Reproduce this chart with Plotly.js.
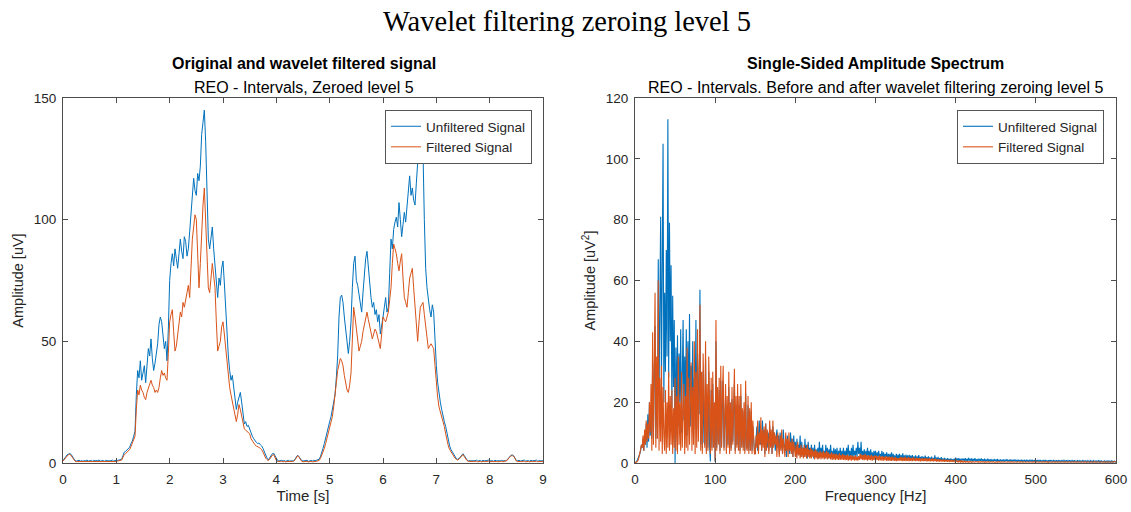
<!DOCTYPE html>
<html>
<head>
<meta charset="utf-8">
<script src="https://cdn.plot.ly/plotly-3.0.1.min.js"></script>
<style>html,body{margin:0;padding:0;background:#fff;}#chart{width:1131px;height:512px;}</style>
</head>
<body>
<div id="chart"></div>
<script>
// ---- Time-domain signal (sampled every 0.025 s, 0 .. 9 s) ----
const timeStep = 0.025;
const unfilteredSignal = [
  // 0.000 - 1.075
  1.0, 1.6, 2.5, 3.3, 3.8, 3.9, 3.6, 2.6, 1.5, 1.0, 0.8,
  0.9,1.1,0.8,1.0,0.7,1.0,0.9,1.2,0.8,0.9,1.0,0.7,1.1,0.9,0.8,1.0,1.2,0.8,0.9,1.0,0.7,1.1,0.9,0.8,1.0,0.9,1.2,0.8,1.0,0.9,1.1,1.2,1.3,
  // 1.100 - 4.000
  1.5, 3, 4.5, 4.8, 5.5, 5.8, 6.5, 8, 9, 11,
  13, 28, 38, 35, 42, 34, 37, 40, 33, 39,
  47, 44, 51, 43, 38, 41, 45, 49, 57, 60,
  58, 52, 47, 50, 42, 55, 75, 82, 86, 81,
  88, 84, 80, 86, 92, 87, 84, 93, 91, 85,
  88, 95, 102, 109, 117, 112, 110, 119, 116, 122,
  135, 140, 145, 132, 110, 92, 88, 94, 97, 88,
  80, 72, 68, 76, 73, 80, 83, 74, 63, 52,
  44, 38, 34, 36, 31, 26, 22, 25, 27, 29,
  25, 19, 16, 17, 15, 15.5, 14, 12, 11, 10,
  9, 8.5, 8, 8.2, 7.5, 7, 6, 4.5, 3, 2,
  1.3, 2, 3, 3.8, 4, 2.8, 1.5,
  // 4.025 - 4.775
  1.0, 0.8, 0.9, 1.1, 0.8, 1.0, 0.7, 0.9, 1.1, 0.8, 1.0, 0.9,
  1.0, 1.5, 2.5, 3.2, 2.6, 1.5, 1.0,
  0.8, 1.0, 0.9, 1.1, 0.7, 0.9, 1.0, 0.8, 1.1, 0.9, 1.0, 1.2,
  // 4.800 - 7.600
  1.5, 2.5, 4, 6, 8, 10.5, 12, 15, 17, 19,
  22, 25, 28, 35, 44, 60, 68, 69, 66, 60,
  54, 48, 45, 50, 58, 72, 82, 85, 75, 73,
  69, 65, 62, 70, 78, 84, 87, 80, 73, 68,
  64, 66, 61, 63, 58, 61, 53, 56, 60, 64,
  68, 62, 64, 78, 92, 88, 96, 99, 101, 97,
  107, 100, 93, 98, 103, 99, 106, 111, 118, 110,
  113, 108, 106, 115, 124, 132, 140, 138, 128, 100,
  80, 72, 66, 63, 60, 65, 62, 50, 40, 33,
  28, 25, 22, 19, 17, 15, 12, 9, 7, 5.5,
  4.5, 3.5, 2.5, 1.8, 1.5, 1.8, 2.5, 3.4, 3.8, 3,
  1.8, 1.2, 0.9,
  // 7.625 - 9.000
  0.9,1.1,0.8,1.0,0.9,1.2,0.8,0.9,1.0,0.7,1.1,0.9,0.8,1.0,1.2,0.8,0.9,1.0,0.7,1.1,0.9,0.8,1.0,0.9,1.1,0.8,1.0,0.9,
  1.2, 2.0, 2.8, 3.2, 3.3, 3.0, 2.0, 1.0,
  0.9,1.1,0.8,1.0,0.9,1.2,0.8,0.9,1.0,0.7,1.1,0.9,0.8,1.0,1.2,0.8,0.9,1.0,0.8,0.9
];
const filteredSignal = [
  // 0.000 - 1.075
  0.8, 1.4, 2.2, 3.0, 3.4, 3.5, 3.2, 2.3, 1.3, 0.8, 0.6,
  0.6,0.7,0.5,0.6,0.45,0.65,0.6,0.75,0.5,0.6,0.65,0.45,0.7,0.6,0.5,0.65,0.75,0.5,0.6,0.65,0.45,0.7,0.6,0.5,0.65,0.6,0.75,0.5,0.65,0.6,0.8,0.9,1.0,
  // 1.100 - 4.000
  1.2, 2.4, 3.5, 3.9, 4.5, 4.8, 5.5, 6.8, 8, 9.5,
  11, 22, 30, 28, 32, 30, 29, 27, 26, 29,
  31, 33, 34, 32, 31, 29, 30, 29, 31, 35,
  38, 36, 37, 35, 34, 45, 58, 61, 63, 54,
  46, 48, 52, 56, 62, 60, 66, 64, 68, 70,
  73, 68, 80, 92, 97, 102, 100, 84, 72, 82,
  96, 106, 113, 98, 80, 72, 70, 78, 82, 77,
  72, 58, 46, 48, 50, 56, 58, 53, 47, 41,
  36, 31, 28, 25, 22, 19, 17, 20, 24, 22,
  19, 16, 14, 13.5, 13, 12.8, 12, 10, 9, 8,
  7.5, 7, 6.5, 6.4, 6, 5.5, 4.5, 3.2, 2, 1.4,
  1, 1.6, 2.5, 3.2, 3.5, 2.4, 1,
  // 4.025 - 4.775
  0.6, 0.5, 0.6, 0.7, 0.5, 0.65, 0.45, 0.6, 0.7, 0.5, 0.65, 0.6,
  0.7, 1.3, 2.3, 3.0, 2.4, 1.3, 0.7,
  0.5, 0.65, 0.6, 0.7, 0.45, 0.6, 0.65, 0.5, 0.7, 0.6, 0.7, 0.8,
  // 4.800 - 7.600
  1.0, 1.8, 3, 4.5, 6, 8, 10, 12.5, 15, 17,
  19, 23, 27, 33, 38, 41, 43, 42, 40, 36,
  33, 30, 29, 32, 37, 52, 64, 60, 56, 50,
  46, 48, 50, 54, 57, 60, 62, 59, 56, 53,
  51, 53, 55, 54, 52, 49, 47, 53, 60, 59,
  58, 60, 62, 67, 72, 82, 90, 88, 86, 82,
  79, 83, 86, 76, 68, 66, 64, 70, 76, 78,
  80, 72, 64, 56, 50, 58, 64, 65, 66, 61,
  56, 51, 47, 48, 49, 48, 47, 40, 32, 27,
  23, 21, 20, 17, 15, 12, 9, 7, 5.5, 4.5,
  3.5, 2.7, 2, 1.5, 1.2, 1.6, 2.2, 3, 3.5, 2.6,
  1.5, 1, 0.7,
  // 7.625 - 9.000
  0.6,0.7,0.5,0.6,0.65,0.75,0.5,0.6,0.65,0.45,0.7,0.6,0.5,0.65,0.75,0.5,0.6,0.65,0.45,0.7,0.6,0.5,0.65,0.6,0.7,0.5,0.65,0.6,
  1.0, 1.8, 2.6, 3.0, 3.0, 2.8, 1.8, 0.8,
  0.6,0.7,0.5,0.6,0.65,0.75,0.5,0.6,0.65,0.45,0.7,0.6,0.5,0.65,0.75,0.5,0.6,0.65,0.5,0.6
];

// ---- Single-sided amplitude spectrum (every 1 Hz, 0 .. 600 Hz) ----
const freqStep = 1;
const unfilteredSpectrum = [
  0, 0.2, 0.5, 1, 1.5, 2.5, 3, 4, 6, 5,
  8, 4, 10, 6, 13, 5, 16, 7, 20, 9,
  14, 8, 33, 10, 25, 45, 8, 30, 12, 67,
  22, 48, 81, 25, 60, 105, 20, 56, 30, 70,
  35, 113, 28, 79, 40, 65, 18, 55, 25, 47,
  0, 38, 16, 42, 12, 36, 20, 44, 10, 30,
  47, 14, 35, 22, 44, 9, 40, 17, 49, 12,
  32, 20, 40, 8, 28, 15, 47, 11, 36, 25,
  16, 57, 6, 24, 5, 30, 7, 6, 34, 4,
  22, 5, 30, 6, 0.5, 24, 5, 26, 6, 16,
  0.5, 40, 5, 21, 7, 24, 4, 27, 6, 18,
  27, 5, 15, 22, 4, 19, 6, 25, 4, 17,
  5, 21, 7, 17, 26, 4, 19, 6, 22, 5,
  19, 4, 22, 6, 15, 5, 17, 4, 23, 6,
  5, 19, 4, 15, 5, 17, 4, 12, 6, 4,
  3, 8, 12, 4, 10, 14, 6, 9, 4, 14,
  6, 11, 3, 13, 8, 5, 10, 4, 12, 6,
  9, 3, 12, 6, 10, 4, 8, 11, 5, 9,
  3, 10, 5, 8, 3, 11, 6, 4, 7, 2,
  9, 4, 7, 3, 10, 5, 8, 2, 9, 4,
  7, 2, 8, 3, 6, 4, 9, 2, 7, 3,
  5, 2, 8, 3, 6, 1.5, 7, 3, 5, 2,
  6, 2.5, 5, 1.5, 6, 2, 4.5, 2, 5, 1.5,
  7, 2, 5, 3, 6, 2, 4, 1.5, 6, 2.5,
  5, 1.5, 4.5, 2, 6, 2, 4, 1.5, 5, 2,
  4.5, 2, 5, 1.5, 4, 2, 5, 1.5, 4, 2,
  5, 1.5, 4, 2, 5, 2, 6, 2, 4, 1.5,
  5, 2, 6, 2, 4, 2.5, 5, 2, 7, 3,
  5, 2, 7, 1.5, 4, 2, 4.5, 1.5, 4, 2,
  5, 2, 4, 1.5, 4.5, 2, 3.5, 1.5, 4, 2,
  4, 1.5, 3.5, 2, 4, 1.5, 3, 2, 4, 1.5,
  3.5, 1.5, 3, 2, 3.5, 1, 3, 1.5, 3, 1.5,
  3.5, 1.2, 3, 1.5, 2.5, 1.2, 3, 1, 2.8, 1.3,
  3, 1.2, 2.6, 1, 3.2, 1.2, 2.5, 1, 2.8, 1.2,
  2.5, 1, 2.7, 1.2, 2.4, 1, 2.6, 1.1, 2.2, 1,
  2.5, 1.2, 2.2, 0.9, 2.6, 1.1, 2, 1, 2.3, 1,
  2, 0.8, 2.4, 1, 1.9, 0.9, 2.2, 1, 1.8, 0.8,
  2.1, 1, 1.7, 0.8, 2.5, 0.9, 1.8, 0.8, 2, 0.9,
  1.6, 0.7, 1.9, 0.8, 1.5, 0.7, 1.7, 0.8, 1.4, 0.6,
  1.6, 0.8, 1.3, 0.6, 1.5, 0.7, 1.2, 0.6, 1.4, 0.7,
  1.8, 0.7, 1.5, 0.6, 1.6, 0.7, 1.3, 0.6, 1.5, 0.8,
  1.4, 0.6, 1.6, 0.7, 1.3, 0.6, 1.7, 0.8, 1.4, 0.6,
  1.5, 0.7, 1.3, 0.6, 1.6, 0.7, 1.2, 0.6, 1.4, 0.7,
  1.3, 0.6, 1.5, 0.7, 1.2, 0.6, 1.4, 0.5, 1.2, 0.6,
  1.4, 0.6, 1.2, 0.5, 1.3, 0.6, 1.1, 0.5, 1.3, 0.6,
  1.2, 0.5, 1.3, 0.6, 1.1, 0.5, 1.2, 0.6, 1.0, 0.5,
  1.2, 0.5, 1.1, 0.6, 1.3, 0.5, 1.0, 0.5, 1.2, 0.6,
  1.1, 0.5, 1.0, 0.6, 1.2, 0.5, 1.0, 0.4, 1.1, 0.5,
  1.0, 0.5, 1.1, 0.4, 1.0, 0.5, 0.9, 0.4, 1.1, 0.5,
  1.0, 0.4, 0.9, 0.5, 1.1, 0.4, 0.9, 0.5, 1.0, 0.4,
  0.9, 0.4, 1.0, 0.5, 0.9, 0.4, 1.0, 0.4, 0.8, 0.5,
  0.9, 0.4, 1.0, 0.5, 0.8, 0.4, 0.9, 0.4, 1.0, 0.5,
  0.8, 0.4, 0.9, 0.5, 0.8, 0.4, 0.9, 0.4, 0.8, 0.4,
  0.9, 0.4, 0.8, 0.5, 0.9, 0.4, 0.8, 0.4, 0.9, 0.4,
  0.8, 0.4, 0.9, 0.4, 0.8, 0.3, 0.8, 0.4, 0.9, 0.4,
  0.7, 0.4, 0.8, 0.3, 0.8, 0.4, 0.7, 0.4, 0.8, 0.3,
  0.8, 0.4, 0.7, 0.3, 0.8, 0.4, 0.7, 0.3, 0.8, 0.4,
  0.7, 0.3, 0.8, 0.4, 0.7, 0.3, 0.7, 0.4, 0.8, 0.3,
  0.7, 0.3, 0.7, 0.4, 0.6, 0.3, 0.7, 0.3, 0.6, 0.3,
  0.7, 0.3, 0.6, 0.3, 0.7, 0.3, 0.6, 0.3, 0.6, 0.3,
  0.5
];
const filteredSpectrum = [
  0, 0.1, 0.3, 0.6, 1, 2, 3, 4.5, 6, 5,
  9, 4, 11, 6, 14, 7, 13, 8, 20, 10,
  26, 4, 43, 6, 30, 56, 5, 35, 8, 60,
  4, 28, 7, 32, 3, 25, 9, 4, 24, 3,
  20, 5, 30, 4, 22, 6, 24, 3, 18, 5,
  28, 4, 22, 3, 35, 6, 20, 4, 30, 5,
  18, 26, 3, 22, 5, 38, 4, 28, 6, 20,
  33, 4, 25, 6, 40, 3, 30, 5, 44, 7,
  20, 52, 4, 30, 3, 36, 8, 5, 40, 3,
  26, 4, 35, 6, 3, 28, 4, 30, 5, 20,
  0.5, 47, 4, 25, 6, 28, 3, 32, 5, 22,
  32, 4, 18, 26, 3, 22, 5, 30, 3, 20,
  4, 25, 6, 20, 31, 3, 22, 5, 26, 4,
  22, 3, 26, 5, 18, 4, 20, 3, 27, 5,
  4, 22, 3, 18, 4, 20, 3, 14, 5, 3,
  3, 9, 5, 14, 3, 10, 6, 15, 4, 11,
  5, 12, 2, 13, 4, 11, 7, 3, 14, 5,
  11, 3, 14, 5, 10, 6, 9, 2, 10, 4,
  2, 9, 4, 11, 3, 8, 5, 2, 10, 4,
  8, 2, 10, 4, 7, 3, 8, 2, 7, 4,
  2, 6, 1.5, 7, 2.5, 5, 1.5, 6, 2, 5,
  1.5, 6, 2, 5, 1.5, 6, 2, 4.5, 1.5, 5,
  1.5, 4.5, 2, 4, 1.2, 4.5, 1.5, 4, 1.2, 3.5,
  1.5, 4, 1.2, 3.5, 1.5, 4, 1.2, 3.5, 1.5, 4,
  1.2, 3.5, 1.5, 3, 1.2, 3.5, 1, 3.2, 1.2, 3,
  1, 3, 1.2, 2.8, 1, 3.2, 1, 2.6, 1.1, 3,
  1, 2.7, 0.9, 2.5, 1, 2.8, 0.8, 2.4, 1, 2.6,
  0.8, 2.4, 1, 2.2, 0.8, 2.5, 0.9, 2.1, 0.8, 2.3,
  1, 3, 1.2, 2.8, 1, 2.6, 0.9, 3, 1, 2.5,
  0.8, 2.6, 1, 2.4, 0.9, 2.7, 0.8, 2.3, 1, 2.5,
  0.8, 2.4, 1, 2.2, 0.8, 2.5, 0.9, 2.1, 0.8, 2.3,
  0.8, 2, 0.9, 2.3, 0.7, 2, 0.8, 2.2, 0.7, 1.9,
  0.7, 2.1, 0.8, 1.8, 0.7, 2, 0.6, 1.7, 0.7, 1.6,
  0.8, 2, 0.7, 1.9, 0.6, 1.8, 0.7, 2.1, 0.6, 1.7,
  0.7, 1.9, 0.6, 1.8, 0.7, 1.6, 0.6, 1.9, 0.7, 1.5,
  0.6, 1.8, 0.7, 1.6, 0.6, 1.7, 0.5, 1.5, 0.6, 1.6,
  0.6, 1.5, 0.6, 1.7, 0.5, 1.4, 0.6, 1.6, 0.5, 1.3,
  0.6, 1.5, 0.5, 1.3, 0.6, 1.4, 0.5, 1.2, 0.5, 1.3,
  0.5, 1.2, 0.5, 1.1, 0.5, 1.2, 0.4, 1.0, 0.5, 1.1,
  0.4, 1.0, 0.5, 0.9, 0.4, 1.0, 0.4, 0.8, 0.4, 0.9,
  0.4, 0.8, 0.4, 0.7, 0.35, 0.8, 0.3, 0.7, 0.3, 0.6,
  0.3, 0.6, 0.3, 0.55, 0.3, 0.5, 0.25, 0.5, 0.3, 0.45,
  0.25, 0.45, 0.3, 0.4, 0.25, 0.5, 0.3, 0.4, 0.25, 0.45,
  0.3, 0.4, 0.25, 0.45, 0.3, 0.4, 0.2, 0.45, 0.3, 0.4,
  0.25, 0.45, 0.3, 0.4, 0.25, 0.4, 0.3, 0.45, 0.25, 0.4,
  0.3, 0.4, 0.25, 0.45, 0.3, 0.4, 0.25, 0.4, 0.3, 0.45,
  0.25, 0.4, 0.3, 0.45, 0.25, 0.4, 0.3, 0.4, 0.25, 0.45,
  0.3, 0.4, 0.25, 0.4, 0.3, 0.45, 0.25, 0.4, 0.3, 0.4,
  0.25, 0.45, 0.3, 0.4, 0.25, 0.4, 0.3, 0.45, 0.25, 0.4,
  0.3, 0.45, 0.25, 0.4, 0.3, 0.4, 0.25, 0.45, 0.3, 0.4,
  0.25, 0.4, 0.3, 0.45, 0.25, 0.4, 0.3, 0.4, 0.25, 0.45,
  0.3, 0.4, 0.25, 0.45, 0.3, 0.4, 0.2, 0.4, 0.3, 0.45,
  0.25, 0.4, 0.3, 0.4, 0.25, 0.45, 0.3, 0.4, 0.25, 0.4,
  0.3, 0.45, 0.25, 0.4, 0.3, 0.4, 0.25, 0.45, 0.3, 0.4,
  0.25, 0.4, 0.3, 0.45, 0.25, 0.4, 0.3, 0.4, 0.25, 0.45,
  0.3, 0.4, 0.25, 0.4, 0.3, 0.45, 0.25, 0.4, 0.3, 0.4,
  0.25, 0.45, 0.3, 0.4, 0.25, 0.4, 0.3, 0.45, 0.25, 0.4,
  0.3, 0.4, 0.25, 0.45, 0.3, 0.4, 0.25, 0.4, 0.3, 0.45,
  0.25, 0.4, 0.3, 0.4, 0.25, 0.45, 0.3, 0.4, 0.25, 0.4,
  0.3, 0.45, 0.25, 0.4, 0.3, 0.4, 0.25, 0.45, 0.3, 0.4,
  0.3
];

// ---- Text ----
const figureTitle = 'Wavelet filtering zeroing level 5';
const leftTitle = 'Original and wavelet filtered signal';
const leftSubtitle = 'REO - Intervals, Zeroed level 5';
const rightTitle = 'Single-Sided Amplitude Spectrum';
const rightSubtitle = 'REO - Intervals. Before and after wavelet filtering zeroing level 5';
const seriesNames = ['Unfiltered Signal', 'Filtered Signal'];
const timeTicks = [0,1,2,3,4,5,6,7,8,9];
const ampTicks = [0,50,100,150];
const freqTicks = [0,100,200,300,400,500,600];
const specTicks = [0,20,40,60,80,100,120];

const timeAxis = unfilteredSignal.map((_, i) => +(i * timeStep).toFixed(3));
const freqAxis = unfilteredSpectrum.map((_, i) => i * freqStep);

const BLUE = '#0072BD', ORANGE = '#D95319';
const FONT = 'Liberation Sans, Arial, Helvetica, sans-serif';
const AXC = '#4d4d4d';
const TXT = '#262626';

const traces = [
  {x: timeAxis, y: unfilteredSignal, name: seriesNames[0], type: 'scatter', mode: 'lines',
   line: {color: BLUE, width: 1}, xaxis: 'x', yaxis: 'y', legend: 'legend'},
  {x: timeAxis, y: filteredSignal, name: seriesNames[1], type: 'scatter', mode: 'lines',
   line: {color: ORANGE, width: 1}, xaxis: 'x', yaxis: 'y', legend: 'legend'},
  {x: freqAxis, y: unfilteredSpectrum, name: seriesNames[0], type: 'scatter', mode: 'lines',
   line: {color: BLUE, width: 1.1}, xaxis: 'x2', yaxis: 'y2', legend: 'legend2'},
  {x: freqAxis, y: filteredSpectrum, name: seriesNames[1], type: 'scatter', mode: 'lines',
   line: {color: ORANGE, width: 1.1}, xaxis: 'x2', yaxis: 'y2', legend: 'legend2'}
];

function axisBase(extra) {
  return Object.assign({
    showline: true, linecolor: AXC, linewidth: 1, mirror: 'ticks',
    ticks: 'inside', ticklen: 5, tickcolor: AXC, tickwidth: 1,
    showgrid: false, zeroline: false, automargin: false,
    tickfont: {family: FONT, size: 13.5, color: TXT}
  }, extra);
}

const legendBase = {
  bgcolor: '#ffffff', bordercolor: '#555555', borderwidth: 1,
  font: {family: FONT, size: 13.5, color: TXT},
  xanchor: 'right', yanchor: 'top', tracegroupgap: 0, itemwidth: 30
};

const W = 1131, H = 512, ML = 63, MR = 15, MT = 98, MB = 49;
const PW = W - ML - MR, PH = H - MT - MB;
const px = v => (v - ML) / PW;      // page x -> paper x
const py = v => (H - MB - v) / PH;  // page y -> paper y

const layout = {
  width: W, height: H,
  margin: {l: ML, r: MR, t: MT, b: MB, pad: 0},
  paper_bgcolor: '#ffffff', plot_bgcolor: '#ffffff',
  font: {family: FONT, color: TXT},
  showlegend: true,
  xaxis: axisBase({domain: [0, px(543)], range: [0, 9], tickvals: timeTicks, ticklabelstandoff: 4,
    title: {text: 'Time [s]', font: {family: FONT, size: 15, color: TXT}, standoff: 0}}),
  yaxis: axisBase({domain: [0, 1], range: [0, 150], tickvals: ampTicks, ticklabelstandoff: 3,
    title: {text: 'Amplitude [uV]', font: {family: FONT, size: 14.5, color: TXT}, standoff: 6}}),
  xaxis2: axisBase({domain: [px(635), 1], range: [0, 600], tickvals: freqTicks, anchor: 'y2', ticklabelstandoff: 4,
    title: {text: 'Frequency [Hz]', font: {family: FONT, size: 15, color: TXT}, standoff: 0}}),
  yaxis2: axisBase({domain: [0, 1], range: [0, 120], tickvals: specTicks, anchor: 'x2', ticklabelstandoff: 3,
    title: {text: 'Amplitude [uV<sup>2</sup>]', font: {family: FONT, size: 14.5, color: TXT}, standoff: 6}}),
  legend: Object.assign({}, legendBase, {x: px(532), y: py(110)}),
  legend2: Object.assign({}, legendBase, {x: px(1104), y: py(110)}),
  annotations: [
    {text: figureTitle, xref: 'paper', yref: 'paper', x: px(567), y: py(21), xanchor: 'center', yanchor: 'middle',
     showarrow: false, font: {family: 'Liberation Serif, Times New Roman, serif', size: 28.5, color: '#000'}},
    {text: '<b>' + leftTitle + '</b>', xref: 'paper', yref: 'paper', x: px(304), y: py(64), xanchor: 'center', yanchor: 'middle',
     showarrow: false, font: {family: FONT, size: 16, color: '#000'}},
    {text: leftSubtitle, xref: 'paper', yref: 'paper', x: px(304), y: py(87), xanchor: 'center', yanchor: 'middle',
     showarrow: false, font: {family: FONT, size: 16, color: '#000'}},
    {text: '<b>' + rightTitle + '</b>', xref: 'paper', yref: 'paper', x: px(875.5), y: py(64), xanchor: 'center', yanchor: 'middle',
     showarrow: false, font: {family: FONT, size: 16, color: '#000'}},
    {text: rightSubtitle, xref: 'paper', yref: 'paper', x: px(875.5), y: py(87), xanchor: 'center', yanchor: 'middle',
     showarrow: false, font: {family: FONT, size: 16, color: '#000'}}
  ]
};

Plotly.newPlot('chart', traces, layout, {staticPlot: true, displayModeBar: false});
</script>
</body>
</html>
